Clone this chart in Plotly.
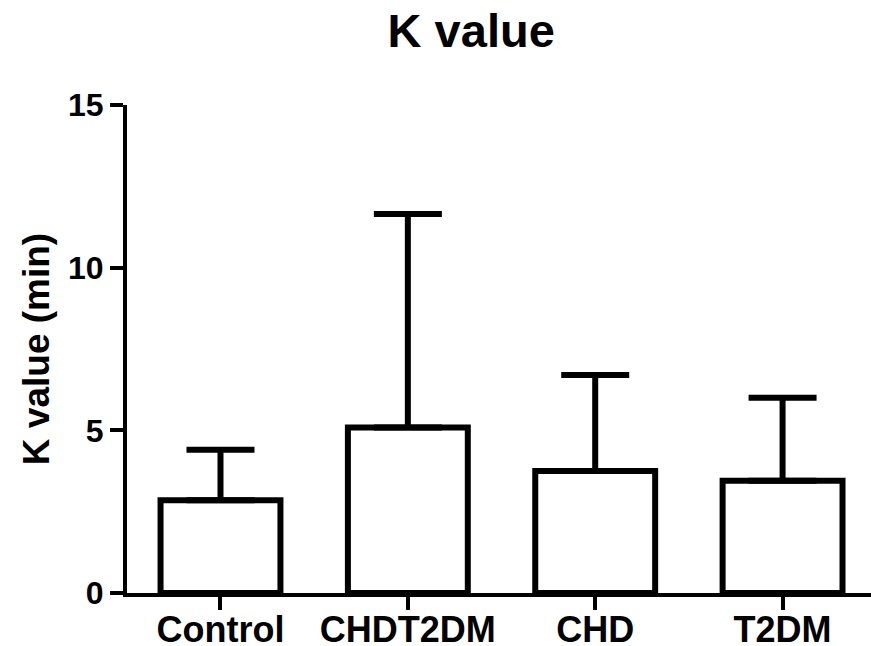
import plotly.graph_objects as go

# Group means and SD of the K value (min)
groups = ["Control", "CHDT2DM", "CHD", "T2DM"]
means = [2.85, 5.09, 3.75, 3.45]
sds = [1.55, 6.56, 2.95, 2.55]
y_ticks = [0, 5, 10, 15]

FONT = "Liberation Sans"
positions = list(range(len(groups)))

fig = go.Figure()
fig.add_trace(go.Bar(
    x=positions,
    y=means,
    width=0.64,
    marker=dict(color="white", line=dict(color="black", width=6)),
    error_y=dict(
        type="data",
        symmetric=False,
        array=sds,
        arrayminus=[0] * len(sds),
        color="black",
        thickness=6,
        width=34,
    ),
    showlegend=False,
))

fig.update_layout(
    width=871,
    height=646,
    margin=dict(l=127, r=0, t=105, b=53),
    paper_bgcolor="white",
    plot_bgcolor="white",
    font=dict(family=FONT, color="black"),
    title=dict(
        text="<b>K value</b>",
        font=dict(family=FONT, size=47, color="black"),
        x=0.541, xanchor="center",
        y=0.952, yanchor="middle",
    ),
)

fig.update_xaxes(
    range=[-0.499, 3.472],
    automargin=False,
    tickmode="array",
    tickvals=positions,
    ticktext=[f"<b>{g}</b>" for g in groups],
    tickfont=dict(family=FONT, size=36, color="black"),
    ticklabelstandoff=-11,
    ticks="outside",
    ticklen=13,
    tickwidth=4,
    tickcolor="black",
    showline=True,
    linecolor="black",
    linewidth=4,
    showgrid=False,
    zeroline=False,
)

fig.update_yaxes(
    range=[0, 15],
    automargin=False,
    tickmode="array",
    tickvals=y_ticks,
    ticktext=[f"<b>{v}</b>" for v in y_ticks],
    tickfont=dict(family=FONT, size=32, color="black"),
    ticks="outside",
    ticklen=13,
    tickwidth=4,
    tickcolor="black",
    showline=True,
    linecolor="black",
    linewidth=4,
    showgrid=False,
    zeroline=False,
    title=dict(
        text="<b>K value (min)</b>",
        font=dict(family=FONT, size=37, color="black"),
        standoff=8,
    ),
)

fig.write_html("out.html")
